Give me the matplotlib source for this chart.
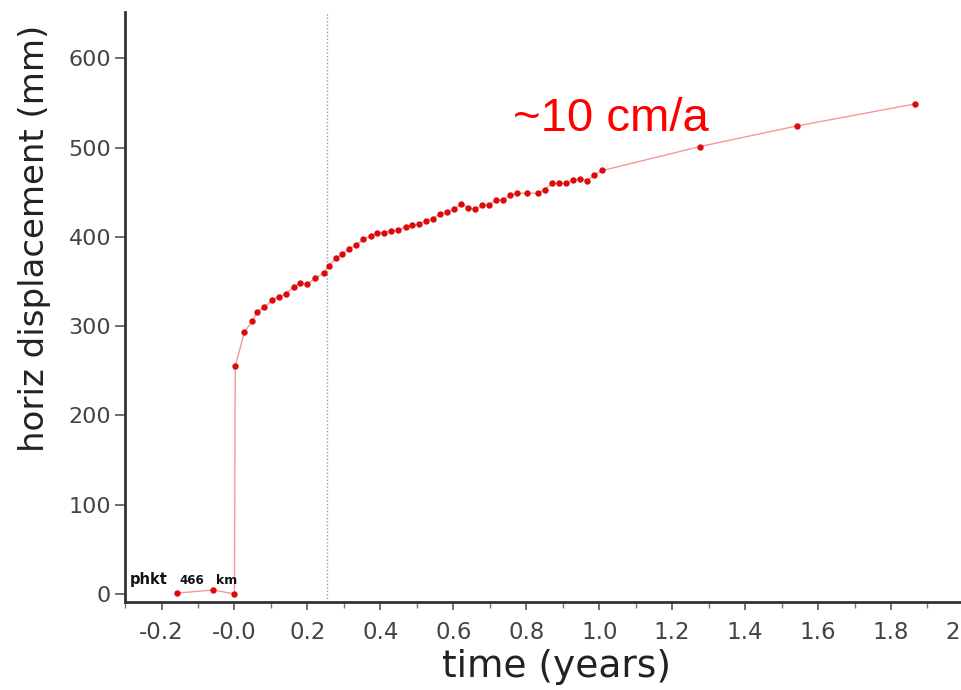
import matplotlib
matplotlib.use("Agg")
import matplotlib.pyplot as plt
from matplotlib.ticker import MultipleLocator, FixedLocator

# GPS station phkt: horizontal displacement after the earthquake
time_years = [-0.157, -0.058, 0.000, 0.002, 0.027, 0.048, 0.063, 0.082, 0.104,
              0.121, 0.140, 0.162, 0.180, 0.200, 0.220, 0.245, 0.258, 0.278,
              0.296, 0.315, 0.333, 0.353, 0.373, 0.392, 0.410, 0.429, 0.449,
              0.469, 0.488, 0.507, 0.525, 0.544, 0.564, 0.584, 0.602, 0.621,
              0.640, 0.660, 0.679, 0.699, 0.718, 0.737, 0.756, 0.775, 0.803,
              0.832, 0.851, 0.871, 0.890, 0.910, 0.929, 0.948, 0.967, 0.987,
              1.009, 1.276, 1.543, 1.865]
displacement_mm = [1, 4.5, 0, 255, 293, 305.7, 315.4, 321.7, 329,
                   333, 336, 343.8, 348, 346.8, 353.5, 359.5, 368, 376,
                   381, 386.7, 390.8, 397.5, 401.3, 404.6, 405, 406.9, 407.3,
                   411.7, 413.6, 414.3, 418, 420.7, 425.9, 428, 430.8, 437.5,
                   433, 430.8, 436, 435.6, 442, 440.9, 446.5, 449, 449,
                   449, 453.2, 460, 460, 460, 463.6, 465.5, 463.2, 470,
                   474.5, 501.3, 524.5, 549]
xtick_values = [-0.2, 0.0, 0.2, 0.4, 0.6, 0.8, 1.0, 1.2, 1.4, 1.6, 1.8, 2.0]
xtick_labels = ["-0.2", "-0.0", "0.2", "0.4", "0.6", "0.8", "1.0", "1.2",
                "1.4", "1.6", "1.8", "2.0"]
ytick_values = [0, 100, 200, 300, 400, 500, 600]
marker_time = 0.255
rate_label = "~10 cm/a"

fig = plt.figure(figsize=(9.62, 6.9), dpi=100)
ax = fig.add_axes([0.130, 0.1275, 0.872, 0.855])

ax.plot(time_years, displacement_mm, color="#f29a9a", lw=1.0, zorder=2)
ax.plot(time_years, displacement_mm, linestyle="none", marker="o",
        markersize=4.6, color="#dd0a0a", markeredgewidth=0, zorder=3)
ax.axvline(marker_time, color="#9a9a9a", lw=1.0, linestyle=(0, (1, 1.5)),
           zorder=1)

ax.set_xlim(-0.3, 2.0)
ax.set_ylim(-9, 652)

for side in ("top", "right"):
    ax.spines[side].set_visible(False)
for side in ("left", "bottom"):
    ax.spines[side].set_color("#333333")
    ax.spines[side].set_linewidth(2.0)

ax.xaxis.set_major_locator(FixedLocator(xtick_values))
ax.set_xticklabels(xtick_labels)
ax.xaxis.set_minor_locator(MultipleLocator(0.1))
ax.yaxis.set_major_locator(FixedLocator(ytick_values))

ax.tick_params(axis="x", which="major", length=6, width=1.2, color="#555555",
               labelsize=16.5, labelcolor="#444444", pad=8)
ax.tick_params(axis="x", which="minor", length=4, width=1.0, color="#777777")
ax.tick_params(axis="y", which="major", length=7, width=1.2, color="#555555",
               labelsize=16, labelcolor="#444444", pad=3)

fig.text(35 / 962, 1 - 238 / 690, "horiz displacement (mm)", rotation=90,
         ha="center", va="center", fontsize=24.5, color="#222222")
fig.text(556 / 962, 1 - 667 / 690, "time (years)", ha="center", va="center",
         fontsize=27, color="#222222")

ax.text(0.764, 519, rate_label, color="#ff0000", fontsize=34,
        family="Liberation Sans", ha="left", va="baseline")

ax.text(-0.288, 11, "phkt", fontsize=10.5, fontweight="bold", color="#111111",
        ha="left", va="baseline")
ax.text(-0.150, 11, "466", fontsize=8.5, fontweight="bold", color="#111111",
        ha="left", va="baseline")
ax.text(-0.050, 11, "km", fontsize=9, fontweight="bold", color="#111111",
        ha="left", va="baseline")

fig.savefig("out.png", dpi=100, facecolor="white")
